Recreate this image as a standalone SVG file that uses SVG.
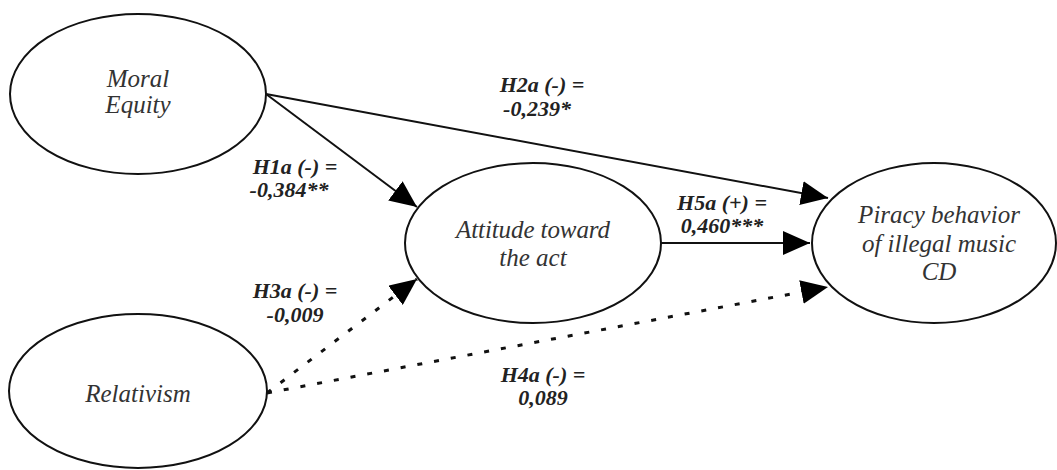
<svg xmlns="http://www.w3.org/2000/svg" width="1057" height="470" viewBox="0 0 1057 470">
<style>
.node ellipse{fill:#fff;stroke:#111;stroke-width:2}
.nt{font-style:italic;font-size:25px;fill:#333;text-anchor:middle}
.lbl{font-style:italic;font-weight:bold;font-size:22px;fill:#222;text-anchor:middle}
.solid{stroke:#111;stroke-width:2;fill:none}
.dot{stroke:#111;stroke-width:3;fill:none;stroke-dasharray:5 12}
</style>
<defs>
<marker id="ah" viewBox="0 0 27 24" refX="27" refY="12" markerWidth="27" markerHeight="24" orient="auto" markerUnits="userSpaceOnUse">
<path d="M0,0 L27,12 L0,24 z" fill="#000"/>
</marker>
</defs>
<rect width="1057" height="470" fill="#fff"/>
<g font-family="'Liberation Serif', 'Times New Roman', 'DejaVu Serif', serif">
<g id="connectors">
<line class="solid" x1="266" y1="94" x2="828" y2="198" marker-end="url(#ah)"/>
<line class="solid" x1="266" y1="94" x2="417" y2="207" marker-end="url(#ah)"/>
<line class="solid" x1="661" y1="243" x2="810" y2="243" marker-end="url(#ah)"/>
<line class="dot" x1="267" y1="393" x2="417" y2="279" marker-end="url(#ah)"/>
<line class="dot" x1="267" y1="393" x2="828" y2="287" marker-end="url(#ah)"/>
<text class="lbl" x="542" y="92">H2a (-) =</text>
<text class="lbl" x="537" y="116">-0,239*</text>
<text class="lbl" x="295" y="174">H1a (-) =</text>
<text class="lbl" x="289" y="197">-0,384**</text>
<text class="lbl" x="722" y="210">H5a (+) =</text>
<text class="lbl" x="722" y="233">0,460***</text>
<text class="lbl" x="295" y="298">H3a (-) =</text>
<text class="lbl" x="295" y="322">-0,009</text>
<text class="lbl" x="543" y="382">H4a (-) =</text>
<text class="lbl" x="543" y="405">0,089</text>
</g>
<g id="moral-equity" class="node">
<ellipse cx="138" cy="94" rx="128" ry="80"/>
<text class="nt" x="138" y="87">Moral</text>
<text class="nt" x="138" y="113">Equity</text>
</g>
<g id="attitude" class="node">
<ellipse cx="533" cy="243" rx="128" ry="80"/>
<text class="nt" x="533" y="238" textLength="154" lengthAdjust="spacing">Attitude toward</text>
<text class="nt" x="533" y="266">the act</text>
</g>
<g id="piracy" class="node">
<ellipse cx="934" cy="243" rx="122" ry="80"/>
<text class="nt" x="939" y="223">Piracy behavior</text>
<text class="nt" x="939" y="252">of illegal music</text>
<text class="nt" x="939" y="280">CD</text>
</g>
<g id="relativism" class="node">
<ellipse cx="138" cy="391" rx="129" ry="77"/>
<text class="nt" x="138" y="402">Relativism</text>
</g>
</g>
</svg>
